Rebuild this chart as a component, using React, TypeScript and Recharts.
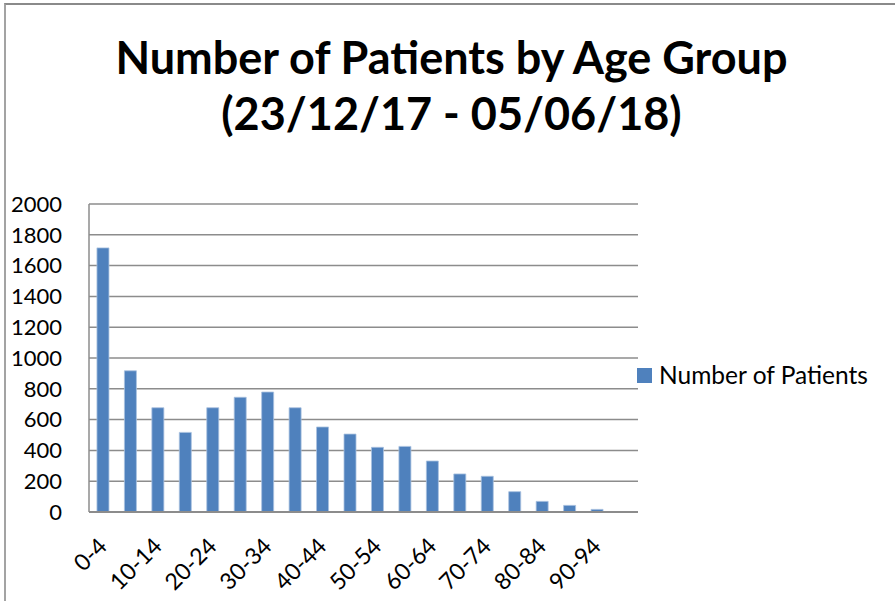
import React from "react";
import { BarChart, Bar, XAxis, YAxis, CartesianGrid } from "recharts";

const ageGroups = [
  "0-4", "5-9", "10-14", "15-19", "20-24", "25-29", "30-34", "35-39", "40-44", "45-49",
  "50-54", "55-59", "60-64", "65-69", "70-74", "75-79", "80-84", "85-89", "90-94", "95-99",
];
const patients = [
  1715, 917, 677, 517, 677, 745, 779, 677, 552, 506,
  420, 426, 331, 247, 232, 132, 69, 43, 17, 0,
];
const yTicks = [0, 200, 400, 600, 800, 1000, 1200, 1400, 1600, 1800, 2000];

const data = ageGroups.map((g, i) => ({ group: g, value: patients[i] }));

const FONT = "Lato, 'Open Sans', sans-serif";
const GRID = "#8c8c8c";
const BLUE = "#4f81bd";

// rotated category labels, like Excel's -45deg labels
const AgeTick = ({ x, y, payload }: any) => (
  <text
    x={x}
    y={y}
    transform={`rotate(-45, ${x}, ${y})`}
    textAnchor="end"
    dy="0.35em"
    fontFamily={FONT}
    fontSize={23}
    fill="#000"
  >
    {payload.value}
  </text>
);

export default function App() {
  return (
    <div style={{ position: "fixed", left: 0, top: 0, width: 895, height: 601, overflow: "hidden", background: "#fff" }}>
      {/* chart frame, right and bottom edges fall outside the picture */}
      <div
        style={{
          position: "absolute",
          left: 4,
          top: 3,
          width: 1000,
          height: 700,
          borderTop: "2px solid #8a8a8a",
          borderLeft: "2px solid #a3a3a3",
        }}
      />
      <div
        style={{
          position: "absolute",
          left: 0,
          top: 29,
          width: 903,
          textAlign: "center",
          fontFamily: FONT,
          fontWeight: 700,
          fontSize: 45,
          lineHeight: "56px",
          color: "#000",
        }}
      >
        Number of Patients by Age Group
        <br />
        (23/12/17 - 05/06/18)
      </div>
      <div style={{ position: "absolute", left: 0, top: 0 }}>
        <BarChart
          width={895}
          height={601}
          data={data}
          margin={{ top: 204, right: 257, left: 9, bottom: 29 }}
          barCategoryGap="29%"
        >
          <CartesianGrid vertical={false} stroke={GRID} strokeWidth={1.5} />
          <XAxis
            dataKey="group"
            interval={1}
            height={60}
            tickLine={false}
            axisLine={{ stroke: GRID, strokeWidth: 2 }}
            tick={<AgeTick />}
            tickSize={0}
            tickMargin={30}
          />
          <YAxis
            width={80}
            domain={[0, 2000]}
            ticks={yTicks}
            interval={0}
            tickLine={false}
            tickSize={0}
            tickMargin={27}
            axisLine={{ stroke: GRID, strokeWidth: 1.5 }}
            tick={{ fill: "#000", fontSize: 22, fontFamily: FONT }}
          />
          <Bar dataKey="value" name="Number of Patients" fill={BLUE} stroke="#a9c1df" strokeWidth={0.8} isAnimationActive={false} />
        </BarChart>
      </div>
      <div
        style={{
          position: "absolute",
          left: 637,
          top: 360,
          display: "flex",
          alignItems: "center",
          fontFamily: FONT,
          fontSize: 24.5,
          lineHeight: "30px",
          color: "#000",
        }}
      >
        <span style={{ width: 15, height: 15, background: BLUE, display: "inline-block", marginRight: 7 }} />
        Number of Patients
      </div>
    </div>
  );
}
